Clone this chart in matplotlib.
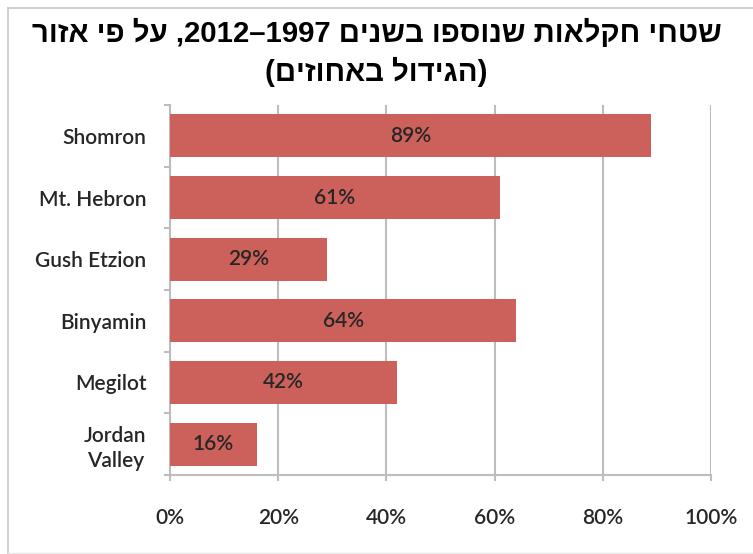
#!/usr/bin/python3

# Agricultural areas added 1997-2012 by region, horizontal bars.

import re

import matplotlib
matplotlib.use("Agg")
import matplotlib.pyplot as plt
from matplotlib.lines import Line2D
import numpy as np

title_line1 = "שטחי חקלאות שנוספו בשנים 1997–2012, על פי אזור"
title_line2 = "(הגידול באחוזים)"

regions = ["Shomron", "Mt. Hebron", "Gush Etzion", "Binyamin", "Megilot", "Jordan\nValley"]
growth = [89, 61, 29, 64, 42, 16]
x_ticks = [0, 20, 40, 60, 80, 100]

bar_color = "#CC615B"
grid_color = "#BDBDBD"
text_color = "#262626"


def to_visual(s):
    # matplotlib has no bidi: reverse the Hebrew, keep digit runs, mirror brackets
    r = s[::-1]
    r = re.sub(r"\d+", lambda m: m.group(0)[::-1], r)
    return r.translate(str.maketrans("()", ")("))


plt.rcParams["font.family"] = ["Lato", "DejaVu Sans"]
plt.rcParams["font.weight"] = "semibold"

fig = plt.figure(figsize=(7.53, 5.54), dpi=100)
ax = fig.add_axes([170 / 753, 1 - 475 / 554, 541 / 753, 370 / 554])

y = np.arange(len(regions))
rects = ax.barh(y, growth, height=0.7, color=bar_color, zorder=3)
ax.bar_label(rects, labels=[f"{v}%" for v in growth], label_type="center",
             fontsize=15, color=text_color)

ax.set_ylim(len(regions) - 0.5, -0.5)
ax.set_xlim(0, 100)
ax.set_xticks(x_ticks)
ax.set_xticklabels([f"{v}%" for v in x_ticks])
ax.set_yticks(y)
ax.set_yticklabels(regions, multialignment="center", linespacing=1.3)
ax.set_yticks(np.arange(-0.5, len(regions)), minor=True)

ax.grid(axis="x", color=grid_color, linewidth=1.5, zorder=0)
for side in ("top", "right"):
    ax.spines[side].set_visible(False)
for side in ("left", "bottom"):
    ax.spines[side].set_color(grid_color)
    ax.spines[side].set_linewidth(1.5)

ax.tick_params(axis="y", which="major", length=0, pad=17, labelsize=15,
               labelcolor=text_color)
ax.tick_params(axis="y", which="minor", length=4, width=1.5, color=grid_color)
ax.tick_params(axis="x", length=4, width=1.5, color=grid_color, pad=20,
               labelsize=15, labelcolor=text_color)

title_font = ["Liberation Sans", "DejaVu Sans"]
fig.text(0.5, 1 - 33 / 554, to_visual(title_line1), ha="center", va="center",
         fontsize=21.2, fontweight="bold", family=title_font, color="black")
fig.text(0.5, 1 - 72 / 554, to_visual(title_line2), ha="center", va="center",
         fontsize=21.2, fontweight="bold", family=title_font, color="black")

# chart frame
fig.add_artist(Line2D([8 / 753, 8 / 753], [0, 1 - 8 / 554], color="#C8C8C8", lw=1.2))
fig.add_artist(Line2D([8 / 753, 1], [1 - 8 / 554, 1 - 8 / 554], color="#C8C8C8", lw=1.2))
fig.add_artist(Line2D([8 / 753, 1], [1 / 554, 1 / 554], color="#E6E6E6", lw=1))

fig.savefig("out.png", dpi=100)
